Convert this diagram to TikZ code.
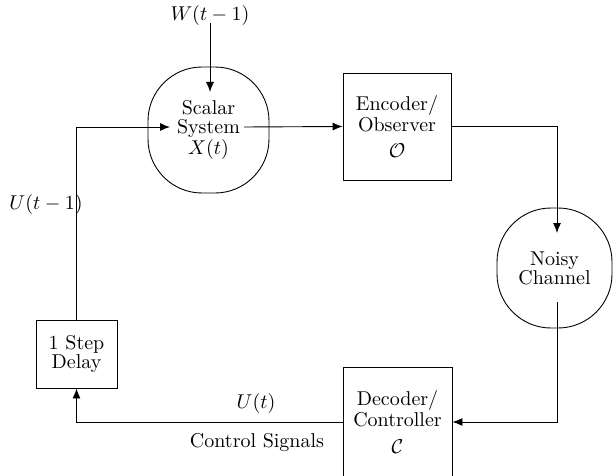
\documentclass[tikz,border=0pt]{standalone}
\usetikzlibrary{arrows.meta}
\begin{document}
\begin{tikzpicture}[x=0.5pt,y=-0.5pt,
  every node/.style={font=\fontsize{10}{9.5}\selectfont, align=center, inner sep=0pt},
  blk/.style={draw, line width=0.45pt, rectangle},
  rnd/.style={draw, line width=0.45pt, rectangle, rounded corners=27pt},
  conn/.style={line width=0.45pt},
  arr/.style={conn, -{Latex[length=5pt,width=4pt]}}]
\useasboundingbox (0,0) rectangle (613,475);
\node[rnd, minimum width=60.5pt, minimum height=63pt] (sys) at (208.5,130) {Scalar\\System\\$X(t)$};
\node[blk, minimum width=54pt, minimum height=53.5pt] (enc) at (397,126.5) {Encoder/\\Observer\\[3.5pt]$\mathcal{O}$};
\node[rnd, minimum width=57.5pt, minimum height=60pt] (ch) at (554.5,268) {Noisy\\Channel};
\node[blk, minimum width=54.5pt, minimum height=55pt] (dec) at (397.5,422) {Decoder/\\Controller\\[4pt]$\mathcal{C}$};
\node[blk, minimum width=40.5pt, minimum height=34pt] (del) at (76.5,354) {1 Step\\Delay};
\node (w) at (210,16) {$W(t-1)$};
\node (ut) at (256,403) {$U(t)$};
\node (cs) at (257,443) {Control Signals};
\node (ut1) at (46,204) {$U(t-1)$};
\coordinate (wtip) at (210,92);
\coordinate (stip) at (170,127);
\coordinate (sout) at (244,127);
\coordinate (ctip) at (557,233);
\coordinate (cout) at (557,302);
\draw[arr] (w.south) ++(0,-3) -- (wtip);
\draw[arr] (del.north) |- (stip);
\draw[arr] (sout) -- (enc.west);
\draw[arr] (enc.east) -| (ctip);
\draw[arr] (cout) |- (dec.east);
\draw[arr] (dec.west) -| (del.south);
\end{tikzpicture}
\end{document}
